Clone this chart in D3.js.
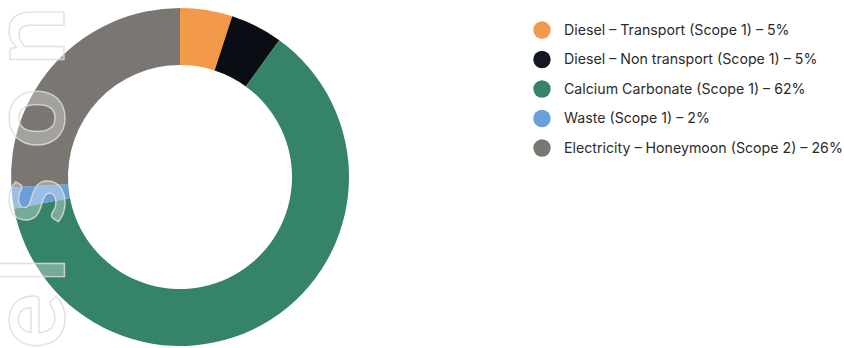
<!DOCTYPE html>
<html>
<head>
<meta charset="utf-8">
<script src="https://cdn.jsdelivr.net/npm/d3@7/dist/d3.min.js"></script>
<style>
  html, body { margin: 0; padding: 0; background: #ffffff; }
  svg { display: block; }
</style>
</head>
<body>
<svg id="chart" width="844" height="348"></svg>
<script>
const categories = [
  "Diesel – Transport (Scope 1)",
  "Diesel – Non transport (Scope 1)",
  "Calcium Carbonate (Scope 1)",
  "Waste (Scope 1)",
  "Electricity – Honeymoon (Scope 2)"
];
const values = [5, 5, 62, 2, 26];
const colors = ["#F2994A", "#0B0D14", "#358467", "#6A9FD8", "#7A7672"];
const legendColors = ["#F2994A", "#141824", "#358467", "#6A9FD8", "#7A7672"];
const watermarkText = "Nelson";

const svg = d3.select("#chart");
const cx = 180, cy = 177, rOuter = 169, rInner = 112;

const data = categories.map((c, i) => ({ name: c, value: values[i], color: colors[i], legendColor: legendColors[i] }));

const pie = d3.pie().sort(null).value(d => d.value);
const arc = d3.arc().innerRadius(rInner).outerRadius(rOuter);

const g = svg.append("g").attr("transform", `translate(${cx},${cy})`);
g.selectAll("path.slice")
  .data(pie(data))
  .join("path")
  .attr("class", "slice")
  .attr("d", arc)
  .attr("fill", d => d.data.color);

// watermark (rotated, outlined)
const wmPos = [-395, -321, -270, -201, -118, -36];
svg.append("g")
  .attr("transform", "translate(64,0) rotate(-90)")
  .append("text")
  .attr("x", wmPos.join(" "))
  .attr("y", 0)
  .attr("text-anchor", "middle")
  .attr("font-family", "Lato, sans-serif")
  .attr("font-weight", 700)
  .attr("font-size", 106)
  .attr("fill", "#ffffff")
  .attr("fill-opacity", 0.32)
  .attr("stroke", "#dcdcdc")
  .attr("stroke-opacity", 0.85)
  .attr("stroke-width", 1.4)
  .text(watermarkText);

// legend
const legend = svg.append("g").attr("transform", "translate(542,30)");
const rowH = 29.5;
const rows = legend.selectAll("g.row")
  .data(data)
  .join("g")
  .attr("class", "row")
  .attr("transform", (d, i) => `translate(0,${i * rowH})`);
rows.append("circle")
  .attr("r", 8.7)
  .attr("fill", d => d.legendColor);
rows.append("text")
  .attr("x", 22)
  .attr("y", 0)
  .attr("dy", "0.35em")
  .attr("font-family", "Inter, sans-serif")
  .attr("font-size", 14.2)
  .attr("fill", "#2b2b2b")
  .text(d => `${d.name} – ${d.value}%`);
</script>
</body>
</html>
